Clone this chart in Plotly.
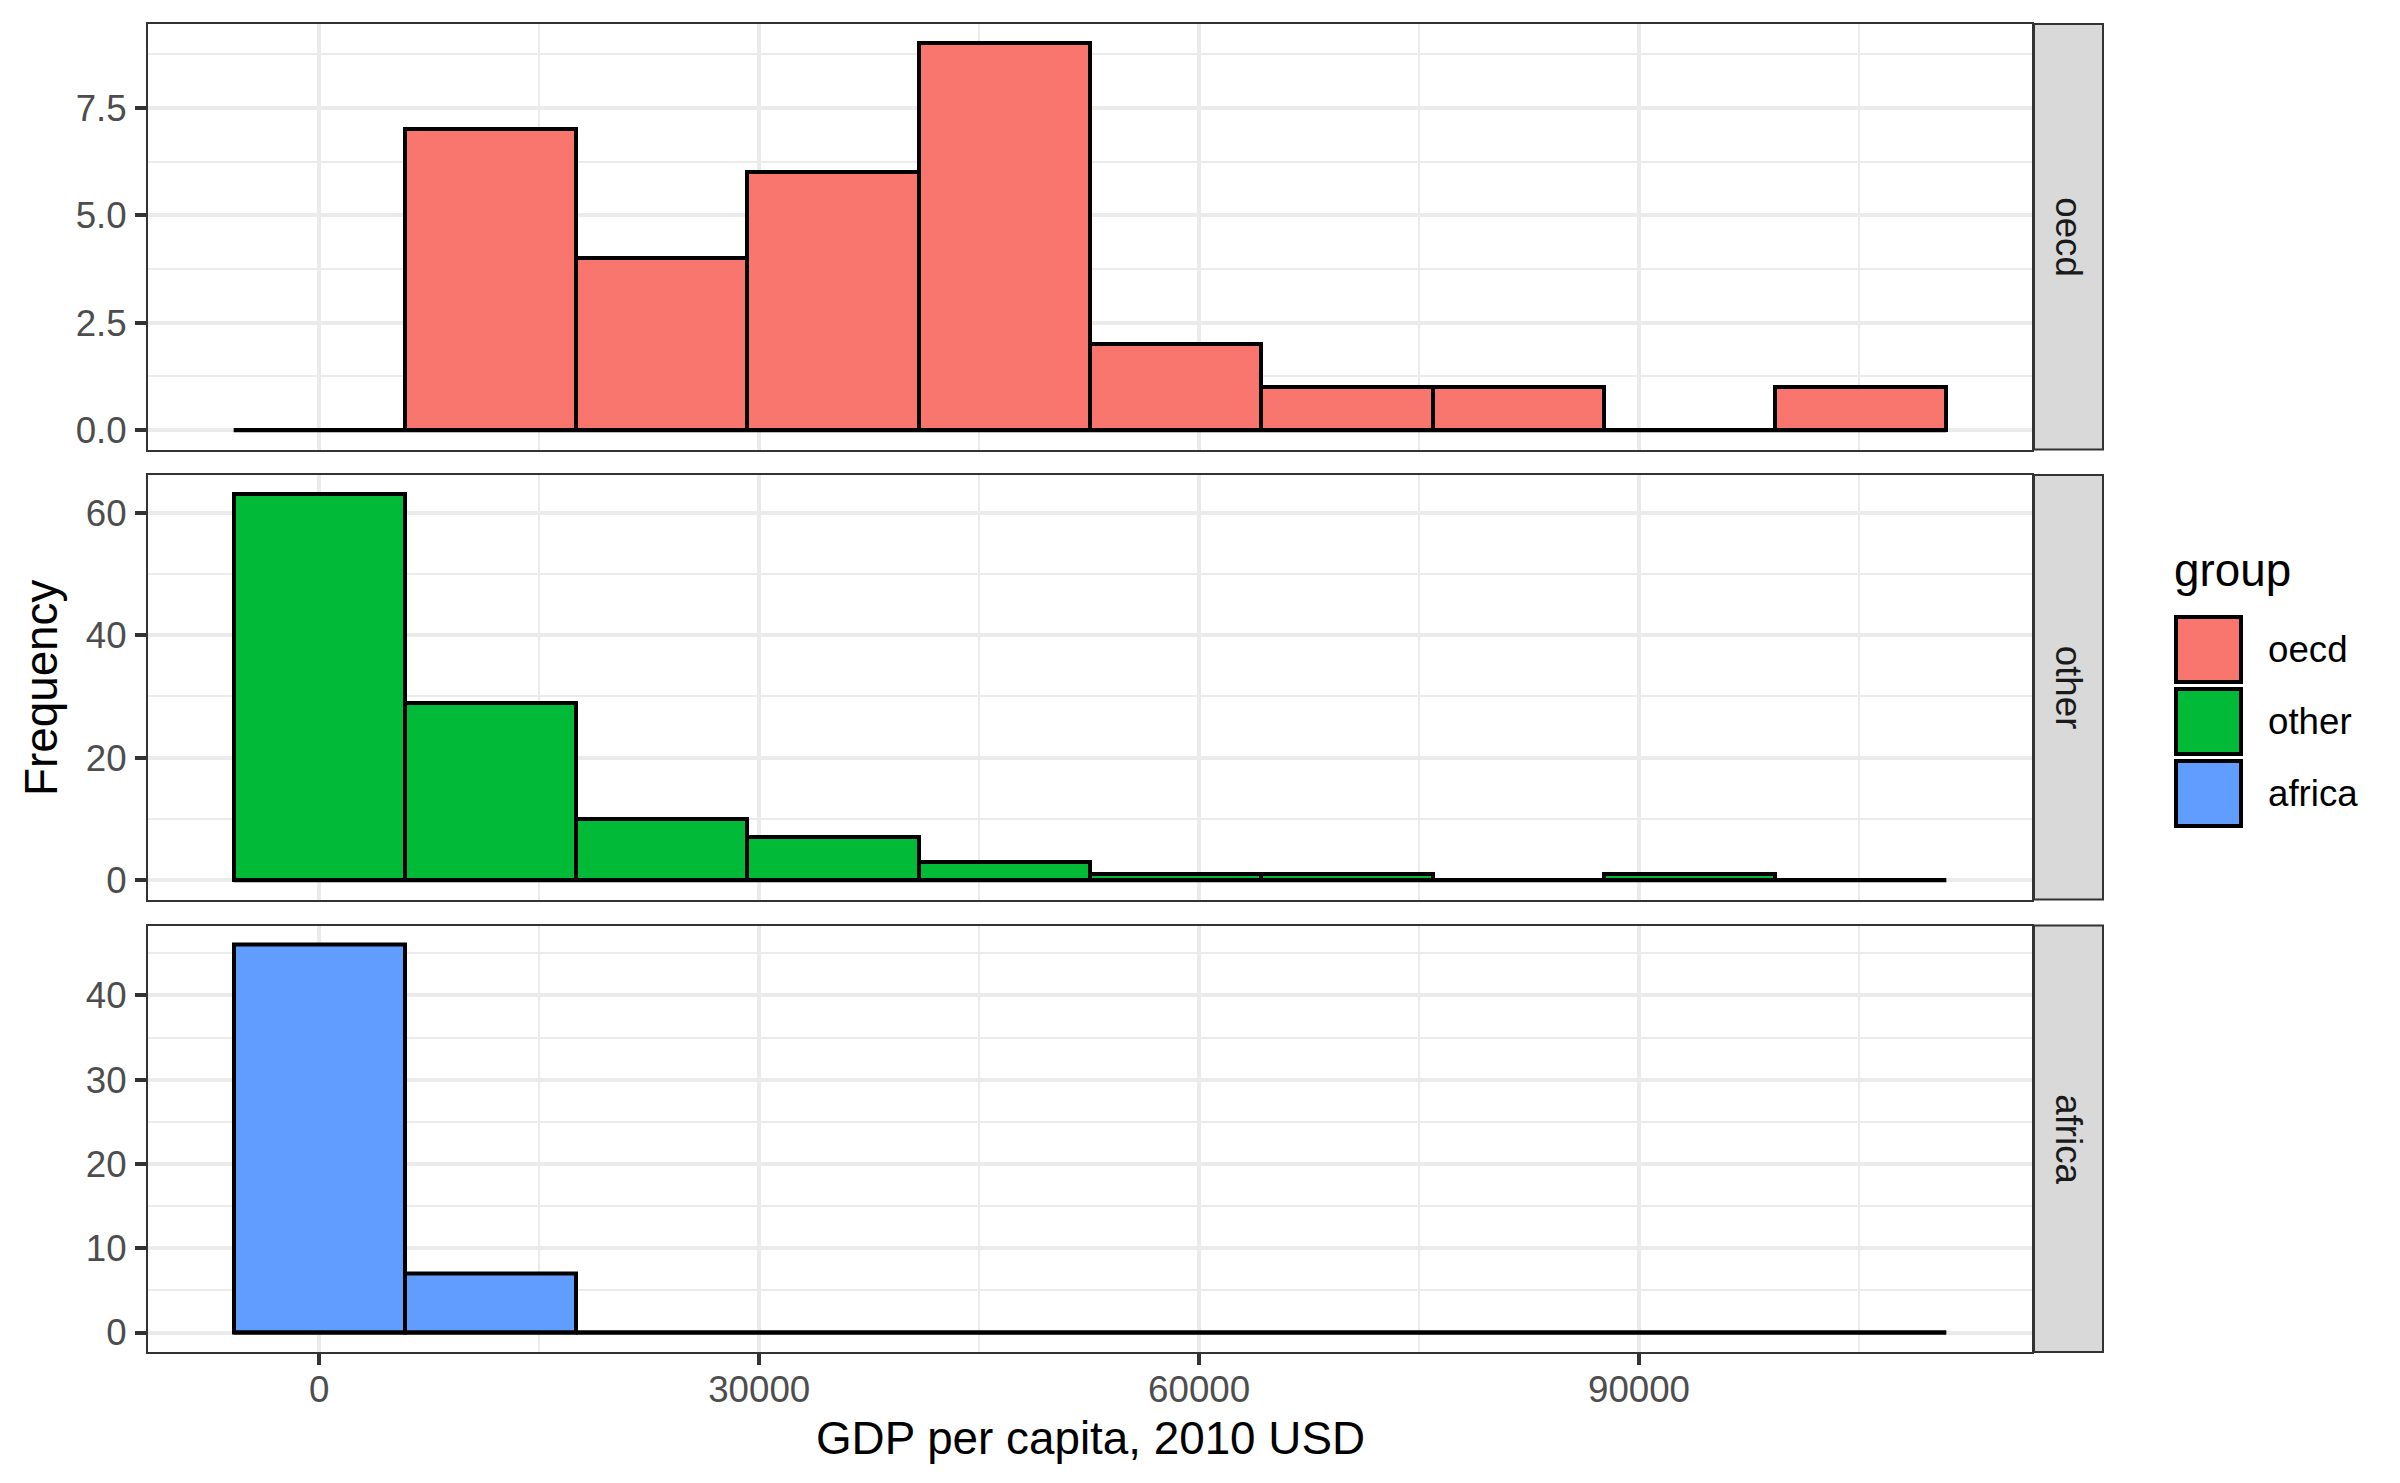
import plotly.graph_objects as go
from plotly.subplots import make_subplots

# ---------------- data ----------------
groups = ["oecd", "other", "africa"]
fill_colors = ["#F8766D", "#00BA38", "#619CFF"]
bin_width = 11680
bin_centers = [0, 11680, 23360, 35040, 46720, 58400, 70080, 81760, 93440, 105120]
counts_oecd = [0, 7, 4, 6, 9, 2, 1, 1, 0, 1]
counts_other = [63, 29, 10, 7, 3, 1, 1, 0, 1, 0]
counts_africa = [46, 7, 0, 0, 0, 0, 0, 0, 0, 0]
counts = [counts_oecd, counts_other, counts_africa]

x_tick_vals = [0, 30000, 60000, 90000]
x_tick_text = ["0", "30000", "60000", "90000"]
x_minor_dtick = 15000
y_tick_vals = [[0, 2.5, 5.0, 7.5], [0, 20, 40, 60], [0, 10, 20, 30, 40]]
y_tick_text = [["0.0", "2.5", "5.0", "7.5"], ["0", "20", "40", "60"], ["0", "10", "20", "30", "40"]]
y_minor_dtick = [1.25, 10, 5]
x_title = "GDP per capita, 2010 USD"
y_title = "Frequency"
legend_title = "group"

# ---------------- layout geometry (pixels, reference coordinates) ----------------
OFF = 7  # page body margin compensation
W, H = 2400 - 2 * OFF, 1483 - 2 * OFF
L, R, T, B = 147, 2031, 23, 1351
pw, ph = R - L, B - T


def px(x):
    return (x - L) / pw


def py(y):
    return (B - y) / ph


panel_pix = [(23, 448.5), (474, 898.5), (924.5, 1351)]
domains = [[py(b), py(t)] for (t, b) in panel_pix]

GRID = "#EBEBEB"
BORDER = "#333333"
TICKCOL = "#4D4D4D"
FONT = "Liberation Sans, Arial, sans-serif"
TICK_FS = 36.7
TITLE_FS = 45.8

fig = make_subplots(rows=3, cols=1, shared_xaxes=True)

# x-range from data with ggplot-like 5% expansion
lo_edge = bin_centers[0] - bin_width / 2
hi_edge = bin_centers[-1] + bin_width / 2
xpad = 0.05 * (hi_edge - lo_edge)
xrange = [lo_edge - xpad, hi_edge + xpad]

for i, (g, col, cnt) in enumerate(zip(groups, fill_colors, counts)):
    row = i + 1
    fig.add_trace(
        go.Bar(
            x=bin_centers,
            y=cnt,
            width=bin_width,
            marker=dict(color=col, line=dict(color="black", width=4)),
            name=g,
            showlegend=False,
        ),
        row=row,
        col=1,
    )
    # zero-count baseline (ggplot draws a flat outline for empty bins)
    fig.add_trace(
        go.Scatter(
            x=[lo_edge, hi_edge],
            y=[0, 0],
            mode="lines",
            line=dict(color="black", width=4),
            showlegend=False,
            hoverinfo="skip",
        ),
        row=row,
        col=1,
    )
    ymax = max(cnt)
    ypad = 0.05 * ymax
    yname = "yaxis" if row == 1 else f"yaxis{row}"
    xname = "xaxis" if row == 1 else f"xaxis{row}"
    fig.layout[yname].update(
        domain=domains[i],
        range=[-ypad, ymax + ypad],
        tickmode="array",
        tickvals=y_tick_vals[i],
        ticktext=y_tick_text[i],
        ticks="outside",
        ticklen=11,
        tickwidth=4,
        tickcolor=BORDER,
        tickfont=dict(family=FONT, size=TICK_FS, color=TICKCOL),
        showgrid=True,
        gridcolor=GRID,
        gridwidth=4,
        minor=dict(dtick=y_minor_dtick[i], tick0=0, showgrid=True, gridcolor=GRID, gridwidth=2),
        zeroline=False,
        showline=True,
        linecolor=BORDER,
        linewidth=2,
        mirror=True,
        ticklabelstandoff=1,
    )
    fig.layout[xname].update(
        range=xrange,
        tickmode="array",
        tickvals=x_tick_vals,
        ticktext=x_tick_text,
        showgrid=True,
        gridcolor=GRID,
        gridwidth=4,
        minor=dict(dtick=x_minor_dtick, tick0=0, showgrid=True, gridcolor=GRID, gridwidth=2),
        zeroline=False,
        showline=True,
        linecolor=BORDER,
        linewidth=2,
        mirror=True,
        ticks="outside" if row == 3 else "",
        ticklen=11,
        tickwidth=4,
        tickcolor=BORDER,
        showticklabels=(row == 3),
        tickfont=dict(family=FONT, size=TICK_FS, color=TICKCOL),
        ticklabelstandoff=-7,
    )

shapes = []
annotations = []

# facet strips
for i, g in enumerate(groups):
    t, b = panel_pix[i]
    shapes.append(
        dict(
            type="rect",
            xref="paper",
            yref="paper",
            x0=px(2033),
            x1=px(2102),
            y0=py(b),
            y1=py(t),
            fillcolor="#D9D9D9",
            line=dict(color=BORDER, width=2),
            layer="above",
        )
    )
    annotations.append(
        dict(
            text=g,
            xref="paper",
            yref="paper",
            x=px(2067.5),
            y=py((t + b) / 2),
            showarrow=False,
            textangle=90,
            font=dict(family=FONT, size=TICK_FS, color="#1A1A1A"),
            xanchor="center",
            yanchor="middle",
        )
    )

# manual legend
annotations.append(
    dict(
        text=legend_title,
        xref="paper",
        yref="paper",
        x=px(2171),
        y=py(569),
        showarrow=False,
        xanchor="left",
        yanchor="middle",
        font=dict(family=FONT, size=TITLE_FS, color="black"),
    )
)
key_tops = [614, 686, 758]
for g, col, kt in zip(groups, fill_colors, key_tops):
    shapes.append(
        dict(
            type="rect",
            xref="paper",
            yref="paper",
            x0=px(2175),
            x1=px(2240),
            y0=py(kt + 67),
            y1=py(kt + 2),
            fillcolor=col,
            line=dict(color="black", width=4),
            layer="above",
        )
    )
    annotations.append(
        dict(
            text=g,
            xref="paper",
            yref="paper",
            x=px(2265),
            y=py(kt + 34.5),
            showarrow=False,
            xanchor="left",
            yanchor="middle",
            font=dict(family=FONT, size=TICK_FS, color="black"),
        )
    )

# axis titles
annotations.append(
    dict(
        text=x_title,
        xref="paper",
        yref="paper",
        x=px(1089),
        y=py(1437),
        showarrow=False,
        xanchor="center",
        yanchor="middle",
        font=dict(family=FONT, size=TITLE_FS, color="black"),
    )
)
annotations.append(
    dict(
        text=y_title,
        xref="paper",
        yref="paper",
        x=px(40),
        y=py(687),
        showarrow=False,
        textangle=-90,
        xanchor="center",
        yanchor="middle",
        font=dict(family=FONT, size=TITLE_FS, color="black"),
    )
)

fig.update_layout(
    width=W,
    height=H,
    margin=dict(l=L - OFF, r=(2400 - OFF) - R, t=T - OFF, b=(1483 - OFF) - B, pad=0),
    paper_bgcolor="white",
    plot_bgcolor="white",
    showlegend=False,
    bargap=0,
    shapes=shapes,
    annotations=annotations,
    font=dict(family=FONT),
)

fig.write_html("out.html")
